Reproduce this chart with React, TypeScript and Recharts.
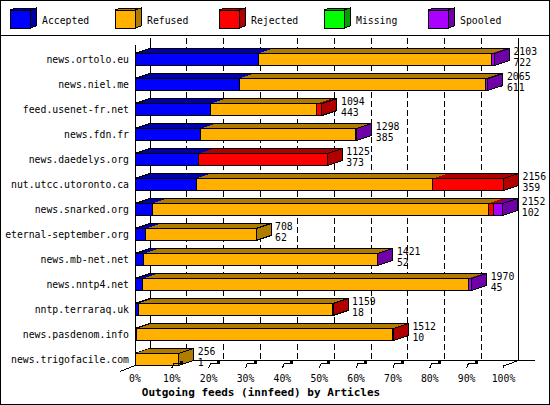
import { BarChart, Bar, XAxis, YAxis, ReferenceLine, ReferenceArea } from 'recharts'

const hosts = [
  'news.ortolo.eu', 'news.niel.me', 'feed.usenet-fr.net', 'news.fdn.fr', 'news.daedelys.org',
  'nut.utcc.utoronto.ca', 'news.snarked.org', 'eternal-september.org', 'news.mb-net.net',
  'news.nntp4.net', 'nntp.terraraq.uk', 'news.pasdenom.info', 'news.trigofacile.com',
]
const offered = [2103, 2065, 1094, 1298, 1125, 2156, 2152, 708, 1421, 1970, 1159, 1512, 256]
const accepted = [722, 611, 443, 385, 373, 359, 102, 62, 52, 45, 18, 10, 1]
const refused = [1361, 1439, 619, 908, 0, 1383, 1964, 646, 1366, 1906, 1139, 1497, 255]
const rejected = [0, 0, 32, 0, 752, 414, 33, 0, 0, 0, 2, 5, 0]
const missing = [0, 0, 0, 0, 0, 0, 0, 0, 0, 0, 0, 0, 0]
const spooled = [20, 15, 0, 5, 0, 0, 53, 0, 3, 19, 0, 0, 0]
const pctLabels = ['0%', '10%', '20%', '30%', '40%', '50%', '60%', '70%', '80%', '90%', '100%']

const series = [
  { key: 'accepted', name: 'Accepted', front: '#0000ff', dark: '#0000a8' },
  { key: 'refused', name: 'Refused', front: '#ffb000', dark: '#b07c00' },
  { key: 'rejected', name: 'Rejected', front: '#ff0000', dark: '#b00000' },
  { key: 'missing', name: 'Missing', front: '#00ff00', dark: '#00a000' },
  { key: 'spooled', name: 'Spooled', front: '#aa00ff', dark: '#7000a8' },
]

const data = hosts.map((host, i) => ({
  host, offered: offered[i], accepted: accepted[i], refused: refused[i],
  rejected: rejected[i], missing: missing[i], spooled: spooled[i],
}))
const maxOffered = Math.max(...offered)
const ticks = pctLabels.map((_, i) => (maxOffered * i) / 10)

const DX = 15
const DY = 5
const FONT = '"DejaVu Sans Mono", monospace'

function Segment(props: any, idx: number) {
  const { x, y, width, height, payload } = props
  if (!(width > 0)) return null
  const s = series[idx]
  const isFirst = series.slice(0, idx).every(o => !payload[o.key])
  const isLast = series.slice(idx + 1).every(o => !payload[o.key])
  const x2 = x + width
  const y2 = y + height
  return (
    <g shapeRendering="crispEdges">
      <polygon points={`${x},${y} ${x + DX},${y - DY} ${x2 + DX},${y - DY} ${x2},${y}`} fill={s.dark} />
      <line x1={x + DX} y1={y - DY} x2={x2 + DX} y2={y - DY} stroke="#000" />
      {isFirst && <line x1={x} y1={y} x2={x + DX} y2={y - DY} stroke="#000" />}
      <rect x={x} y={y} width={width} height={height} fill={s.front} stroke="#000" />
      {isLast && (
        <>
          <polygon points={`${x2},${y} ${x2 + DX},${y - DY} ${x2 + DX},${y2 - DY} ${x2},${y2}`}
            fill={s.dark} stroke="#000" />
          <text x={x2 + DX + 4} y={y + 1} fontFamily={FONT} fontSize={9.8} fill="#000">{payload.offered}</text>
          <text x={x2 + DX + 4} y={y + 12.5} fontFamily={FONT} fontSize={9.8} fill="#000">{payload.accepted}</text>
        </>
      )}
    </g>
  )
}

function YTick(props: any) {
  return (
    <text x={props.x - 6} y={props.y + 3.5} textAnchor="end" fontFamily={FONT} fontSize={9.8} fill="#000">
      {props.payload.value}
    </text>
  )
}

function XTick(props: any) {
  const { x, y, index } = props
  const inner = index > 0 && index < pctLabels.length - 1
  return (
    <g shapeRendering="crispEdges">
      {inner && (
        <>
          <polyline points={`${x},${y - 3.5} ${x + 2},${y - 8.5} ${x + 8},${y - 8.5}`} fill="none" stroke="#000" />
          <rect x={x + 8} y={y - 11} width={3} height={3} fill="#000" />
        </>
      )}
      {index === pctLabels.length - 1 && <line x1={x} y1={y - 4} x2={x} y2={y - 7} stroke="#000" />}
      <text x={x} y={y + 10} textAnchor="middle" fontFamily={FONT} fontSize={9.8} fill="#000">
        {pctLabels[index]}
      </text>
    </g>
  )
}

function Frame(props: any) {
  const { x, y, width, height } = props
  const x0 = x
  const x1 = x + width
  const top = y
  const bot = y + height
  return (
    <g stroke="#000" shapeRendering="crispEdges">
      <line x1={x0 + DX} y1={top - 8.5} x2={x0 + DX} y2={bot - 11} />
      <line x1={x1 + DX} y1={top - 8.5} x2={x1 + DX} y2={bot - 11} />
      <line x1={x0 + DX} y1={bot - 11} x2={x1 + 31} y2={bot - 11} />
      <line x1={x0} y1={top - 1.5} x2={x0} y2={bot - 6} />
      <line x1={x0 - 15} y1={bot} x2={x0} y2={bot - 6} />
      <line x1={x1} y1={bot - 5.5} x2={x1 + DX} y2={bot - 11} />
    </g>
  )
}

function GridLine(props: any) {
  const top = Math.min(props.y1, props.y2)
  const bot = Math.max(props.y1, props.y2)
  return (
    <line x1={props.x1 + DX} y1={top - 8.5} x2={props.x1 + DX} y2={bot - 11}
      stroke="#000" strokeDasharray="6 3" shapeRendering="crispEdges" />
  )
}

export default function App() {
  return (
    <div style={{ position: 'absolute', left: 0, top: 0, width: 550, height: 405, background: '#fff' }}>
      <BarChart width={550} height={405} data={data} layout="vertical"
        margin={{ top: 46.5, right: 46.5, bottom: 0, left: 0 }} barSize={12}>
        <XAxis type="number" domain={[0, maxOffered]} ticks={ticks} height={33.5}
          axisLine={false} tickLine={false} tickSize={0} tickMargin={0} tick={XTick} interval={0} />
        <YAxis type="category" dataKey="host" width={135} axisLine={false} tickLine={false}
          tickSize={0} tickMargin={0} tick={YTick} interval={0} />
        <ReferenceArea x1={0} x2={maxOffered} shape={Frame} fill="none" zIndex={-60} />
        {ticks.slice(1, -1).map(t => (
          <ReferenceLine key={t} x={t} shape={GridLine} zIndex={-60} />
        ))}
        {series.map((s, i) => (
          <Bar key={s.key} dataKey={s.key} stackId="a" fill={s.front}
            shape={(p: any) => Segment(p, i)} isAnimationActive={false} />
        ))}
      </BarChart>
      <svg width={550} height={405} style={{ position: 'absolute', left: 0, top: 0, pointerEvents: 'none' }}>
        {series.map((s, i) => {
          const bx = 10 + Math.round(i * 104.5)
          return (
            <g key={s.key} shapeRendering="crispEdges">
              <polygon points={`${bx},10 ${bx + 6},8 ${bx + 26},8 ${bx + 20},10`} fill={s.dark} stroke="#000" />
              <polygon points={`${bx + 20},10 ${bx + 26},8 ${bx + 26},26 ${bx + 20},28`} fill={s.dark} stroke="#000" />
              <rect x={bx} y={10} width={20} height={18} fill={s.front} stroke="#000" />
              <text x={bx + 32} y={23.5} fontFamily={FONT} fontSize={9.8} fill="#000">{s.name}</text>
            </g>
          )
        })}
        <line x1={0} y1={35.5} x2={550} y2={35.5} stroke="#000" />
        <text x={261} y={396} textAnchor="middle" fontFamily={FONT} fontSize={11} fontWeight="bold" fill="#000">
          Outgoing feeds (innfeed) by Articles
        </text>
        <rect x={0.5} y={0.5} width={549} height={404} fill="none" stroke="#000" />
      </svg>
    </div>
  )
}
